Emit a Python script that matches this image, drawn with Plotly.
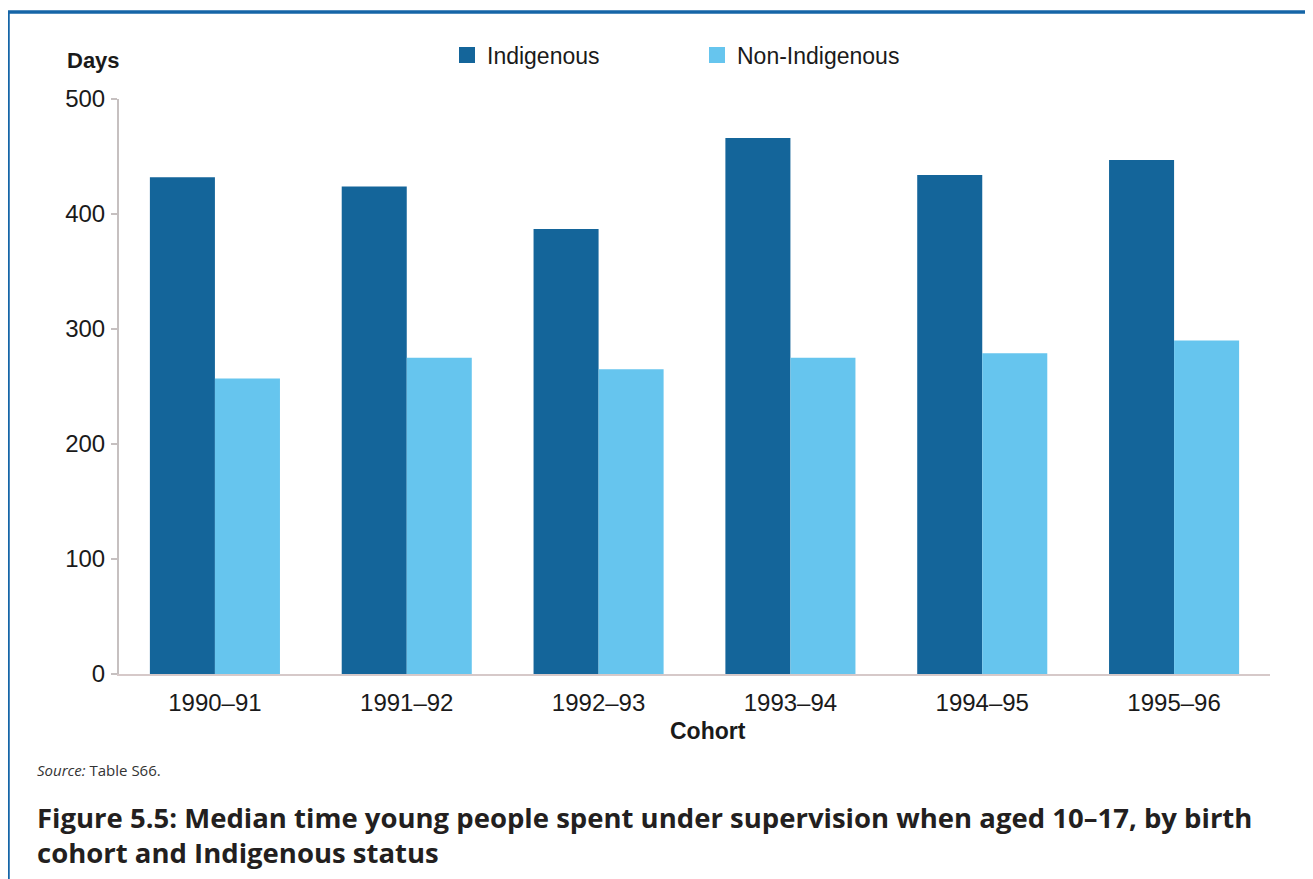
import plotly.graph_objects as go

cohorts = ["1990–91", "1991–92", "1992–93", "1993–94", "1994–95", "1995–96"]
indigenous = [432, 424, 387, 466, 434, 447]
non_indigenous = [257, 275, 265, 275, 279, 290]
y_ticks = [0, 100, 200, 300, 400, 500]

C_IND = "#14659a"
C_NON = "#66c5ee"
FONT = "Liberation Sans, Arial, sans-serif"

# page body has an 8px margin; work in reference pixel coords and shift by OFF
OFF = 8
W, H = 1313 - OFF, 879 - OFF
L, R, T, B = 119 - OFF, 43, 99 - OFF, 205
pw, ph = W - L - R, H - T - B

def px(x):
    return (x - OFF - L) / pw

def py(y):
    return (H - B - (y - OFF)) / ph

fig = go.Figure()
fig.add_trace(go.Bar(x=cohorts, y=indigenous, name="Indigenous", marker_color=C_IND,
                     marker_line_width=0, showlegend=False))
fig.add_trace(go.Bar(x=cohorts, y=non_indigenous, name="Non-Indigenous", marker_color=C_NON,
                     marker_line_width=0, showlegend=False))
# legend entries with larger square swatches
fig.add_trace(go.Scatter(x=[None], y=[None], mode="markers", name="Indigenous",
                         marker=dict(symbol="square", size=16, color=C_IND)))
fig.add_trace(go.Scatter(x=[None], y=[None], mode="markers", name="Non-Indigenous",
                         marker=dict(symbol="square", size=16, color=C_NON)))

fig.update_layout(
    width=W, height=H,
    margin=dict(l=L, r=R, t=T, b=B, pad=0),
    paper_bgcolor="white", plot_bgcolor="white",
    barmode="group", bargap=0.322, bargroupgap=0,
    font=dict(family=FONT, size=23, color="#1a1a1a"),
    legend=dict(orientation="h", x=px(447), xanchor="left", y=py(55), yanchor="middle",
                font=dict(size=23, color="#1a1a1a"), entrywidth=205, entrywidthmode="pixels",
                bgcolor="rgba(0,0,0,0)"),
    xaxis=dict(type="category", showline=True, linecolor="#d6c9c9", linewidth=2,
               ticks="outside", ticklen=0, tickcolor="rgba(0,0,0,0)", ticklabelstandoff=6,
               showgrid=False, zeroline=False, tickfont=dict(size=24, color="#1a1a1a")),
    yaxis=dict(range=[0, 500], tickvals=y_ticks, showline=True, linecolor="#c6c0c0", linewidth=2,
               ticks="outside", ticklen=6, tickcolor="#c6c0c0", tickwidth=2, ticklabelstandoff=1,
               showgrid=False, zeroline=False, tickfont=dict(size=24, color="#1a1a1a")),
)

annotations = [
    dict(text="<b>Days</b>", x=px(65), y=py(60), xanchor="left", yanchor="middle",
         font=dict(size=22, family=FONT, color="#1a1a1a")),
    dict(text="<b>Cohort</b>", x=px(708), y=py(731), xanchor="center", yanchor="middle",
         font=dict(size=23, family=FONT, color="#1a1a1a")),
    dict(text="<i>Source:</i> Table S66.", x=px(35), y=py(770), xanchor="left", yanchor="middle",
         font=dict(size=15, family="Open Sans, Noto Sans, sans-serif", color="#333333")),
    dict(text="<b>Figure 5.5: Median time young people spent under supervision when aged 10–17, by birth</b>",
         x=px(35), y=py(817), xanchor="left", yanchor="middle",
         font=dict(size=27.5, family="Open Sans, Noto Sans, sans-serif", color="#231f20")),
    dict(text="<b>cohort and Indigenous status</b>",
         x=px(35), y=py(853), xanchor="left", yanchor="middle",
         font=dict(size=27.5, family="Open Sans, Noto Sans, sans-serif", color="#231f20")),
]
for a in annotations:
    a.update(xref="paper", yref="paper", showarrow=False)
fig.update_layout(annotations=annotations)

BORDER = "#1565a7"
fig.update_layout(shapes=[
    dict(type="line", xref="paper", yref="paper", x0=px(6), x1=px(1313), y0=py(12), y1=py(12),
         line=dict(color=BORDER, width=3.5)),
    dict(type="line", xref="paper", yref="paper", x0=px(8), x1=px(8), y0=py(11), y1=py(879),
         line=dict(color=BORDER, width=3.5)),
])

fig.write_html("out.html", config={"displayModeBar": False})
